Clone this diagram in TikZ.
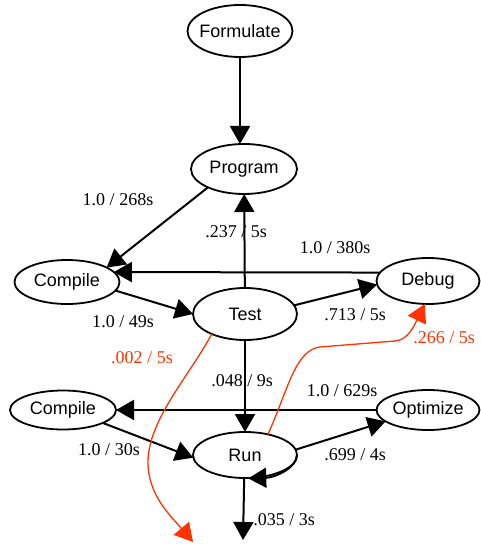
\documentclass[tikz,border=0pt]{standalone}
\usepackage{fontspec}
\setmainfont{Liberation Serif}
\newfontfamily\nodefont{Liberation Sans}
\usetikzlibrary{shapes.geometric,arrows.meta}
\definecolor{hot}{RGB}{255,51,0}
\newcommand{\tname}[1]{\makebox[0pt]{#1}}

\begin{document}
\begin{tikzpicture}[x=0.5pt,y=-0.5pt,
    task/.style={draw, ellipse, line width=0.9pt, inner sep=0pt, outer sep=0pt,
      font=\nodefont\fontsize{9}{10}\selectfont},
    flow/.style={line width=1pt, -{Triangle[length=9pt,width=10pt]}},
    hotflow/.style={hot, line width=0.65pt, -{Triangle[length=9pt,width=10pt]}},
    lbl/.style={font=\fontsize{9}{10}\selectfont, inner sep=0pt}]
  \useasboundingbox (0,0) rectangle (480,544);

  % Draw tasks
  \node[task, minimum width=52.5pt, minimum height=26pt] (formulate) at (240,31) {\tname{Formulate}};
  \node[task, minimum width=53pt, minimum height=25pt] (program) at (244,169) {\tname{Program}};
  \node[task, minimum width=52.5pt, minimum height=22pt] (compileA) at (67,282) {\tname{Compile}};
  \node[task, minimum width=52pt, minimum height=26pt] (test) at (245,314) {\tname{Test}};
  \node[task, minimum width=51.5pt, minimum height=23pt] (debug) at (428,281) {\tname{Debug}};
  \node[task, minimum width=53pt, minimum height=19.5pt] (compileB) at (63,410) {\tname{Compile}};
  \node[task, minimum width=51.5pt, minimum height=20pt] (optimize) at (428,410) {\tname{Optimize}};
  \node[task, minimum width=52pt, minimum height=23pt] (run) at (245,455) {\tname{Run}};
  \coordinate (exit) at (243,540);
  \coordinate (lost) at (193,542);

  % Draw black transitions
  \draw[flow] (formulate.south) -- (formulate.south |- program.north);
  \draw[flow] (program.207) -- (compileA.20);
  \draw[flow] (test) -- (program);
  \draw[flow] (debug.170) -- (compileA.12);
  \draw[flow] (compileA.350) -- (test.west);
  \draw[flow] (test.10) -- (debug.184);
  \draw[flow] (test) -- (run);
  \draw[flow] (optimize) -- (compileB);
  \draw[flow] (compileB.342) -- (run.183);
  \draw[flow] (run.6) -- (optimize.195);
  \draw[flow] (run.east) arc[start angle=0, end angle=-86, x radius=26.2pt, y radius=11.7pt];
  \draw[flow] (run.268) -- (exit);

  % Draw red transitions
  \draw[hotflow] (test.211) .. controls (190,375) and (148,420) .. (148,462)
    .. controls (148,495) and (170,515) .. (lost);
  \draw[hotflow] (run.42) .. controls (288,390) and (295,350) .. (320,347) -- (395,341)
    .. controls (408,340) and (414,326) .. (debug.262);

  % Label transitions
  \node[lbl] (l268) at (118,200) {1.0 / 268s};
  \node[lbl] (l237) at (236,232) {.237 / 5s};
  \node[lbl] (l380) at (335,248) {1.0 / 380s};
  \node[lbl] (l49) at (123,322) {1.0 / 49s};
  \node[lbl] (l713) at (355,315) {.713 / 5s};
  \node[lbl, hot] (l002) at (142,358) {.002 / 5s};
  \node[lbl, hot] (l266) at (444,338) {.266 / 5s};
  \node[lbl] (l048) at (242,381) {.048 / 9s};
  \node[lbl] (l629) at (342,391) {1.0 / 629s};
  \node[lbl] (l30) at (109,450) {1.0 / 30s};
  \node[lbl] (l699) at (355,455) {.699 / 4s};
  \node[lbl] (l035) at (284,520) {.035 / 3s};
\end{tikzpicture}
\end{document}
